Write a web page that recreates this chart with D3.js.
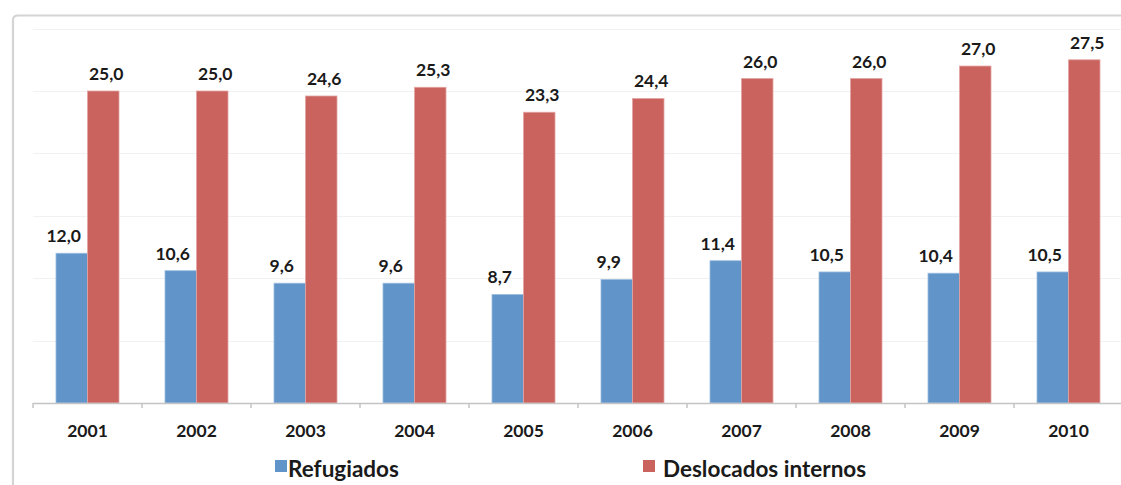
<!DOCTYPE html>
<html>
<head>
<meta charset="utf-8">
<script src="https://cdn.jsdelivr.net/npm/d3@7"></script>
<style>
  html, body { margin: 0; padding: 0; background: #fff; }
  svg { display: block; }
  text { font-family: Lato, "Open Sans", sans-serif; font-weight: bold; fill: #1a1a1a; }
</style>
</head>
<body>
<svg id="chart" width="1121" height="485"></svg>
<script>
const years = ["2001","2002","2003","2004","2005","2006","2007","2008","2009","2010"];
const refugiados = [12.0, 10.6, 9.6, 9.6, 8.7, 9.9, 11.4, 10.5, 10.4, 10.5];
const deslocados = [25.0, 25.0, 24.6, 25.3, 23.3, 24.4, 26.0, 26.0, 27.0, 27.5];
const seriesNames = ["Refugiados", "Deslocados internos"];
const yTicks = [0, 5, 10, 15, 20, 25, 30];

const colors = ["#6194C9", "#CA625E"];
const fmt = v => v.toFixed(1).replace(".", ",");

const svg = d3.select("#chart");
const W = 1121, H = 485;
const plot = { left: 33, right: 1123, top: 28.6, bottom: 403 };

// frame
svg.append("path")
  .attr("d", `M13,${H + 5} L13,20 Q13,15.5 18,15.5 L${W + 5},15.5`)
  .attr("fill", "none").attr("stroke", "#d4d4d4").attr("stroke-width", 2.2);

const x0 = d3.scaleBand().domain(years).range([plot.left, plot.right]).paddingInner(0).paddingOuter(0);
const x1 = d3.scaleBand().domain([0, 1]).range([0, x0.bandwidth()]).paddingOuter(0.73).paddingInner(0);
const y = d3.scaleLinear().domain([0, 30]).range([plot.bottom, plot.top]);

// gridlines
svg.append("g").selectAll("line").data(yTicks.filter(t => t > 0)).join("line")
  .attr("x1", plot.left).attr("x2", W)
  .attr("y1", d => Math.round(y(d)) + 0.5).attr("y2", d => Math.round(y(d)) + 0.5)
  .attr("stroke", "#f1f1f1").attr("stroke-width", 1.2);

const data = years.map((yr, i) => ({ year: yr, vals: [refugiados[i], deslocados[i]] }));

const groups = svg.append("g").selectAll("g").data(data).join("g")
  .attr("transform", d => `translate(${x0(d.year)},0)`);

groups.selectAll("rect").data(d => d.vals.map((v, k) => ({ v, k }))).join("rect")
  .attr("x", d => x1(d.k))
  .attr("width", x1.bandwidth())
  .attr("y", d => y(d.v))
  .attr("height", d => y(0) - y(d.v))
  .attr("fill", d => colors[d.k])
  .attr("stroke", d => d.k === 0 ? "#9dbde0" : "#e3a6a3")
  .attr("stroke-width", 0.8);

const labelShift = [-8, 3];
groups.selectAll("text.val").data(d => d.vals.map((v, k) => ({ v, k }))).join("text")
  .attr("class", "val")
  .attr("x", d => x1(d.k) + x1.bandwidth() / 2 + labelShift[d.k])
  .attr("y", d => y(d.v) - 11)
  .attr("text-anchor", "middle")
  .attr("font-size", 17.5)
  .text(d => fmt(d.v));

// x axis
const axis = svg.append("g").attr("transform", `translate(0,${plot.bottom})`)
  .call(d3.axisBottom(x0).tickSize(0).tickPadding(22));
axis.select(".domain").remove();
axis.append("line").attr("x1", plot.left).attr("x2", W).attr("y1", 0.5).attr("y2", 0.5)
  .attr("stroke", "#c4c4c4").attr("stroke-width", 1.5);
axis.selectAll(".bound").data(years.map(d => x0(d)).concat([plot.right])).join("line")
  .attr("class", "bound")
  .attr("x1", d => d).attr("x2", d => d).attr("y1", 0).attr("y2", 5)
  .attr("stroke", "#c4c4c4").attr("stroke-width", 1.5);
axis.selectAll(".tick text")
  .attr("font-size", 17.5).attr("font-family", "Lato, sans-serif").attr("font-weight", "bold")
  .attr("fill", "#1a1a1a");

// legend
const legendX = [275, 643];
const legend = svg.append("g").selectAll("g").data(seriesNames).join("g")
  .attr("transform", (d, i) => `translate(${legendX[i]},460)`);
legend.append("rect").attr("width", 12).attr("height", 12).attr("fill", (d, i) => colors[i]);
legend.append("text").attr("x", (d, i) => i === 0 ? 13 : 20).attr("y", 17)
  .attr("font-size", 22.5).text(d => d);
</script>
</body>
</html>
